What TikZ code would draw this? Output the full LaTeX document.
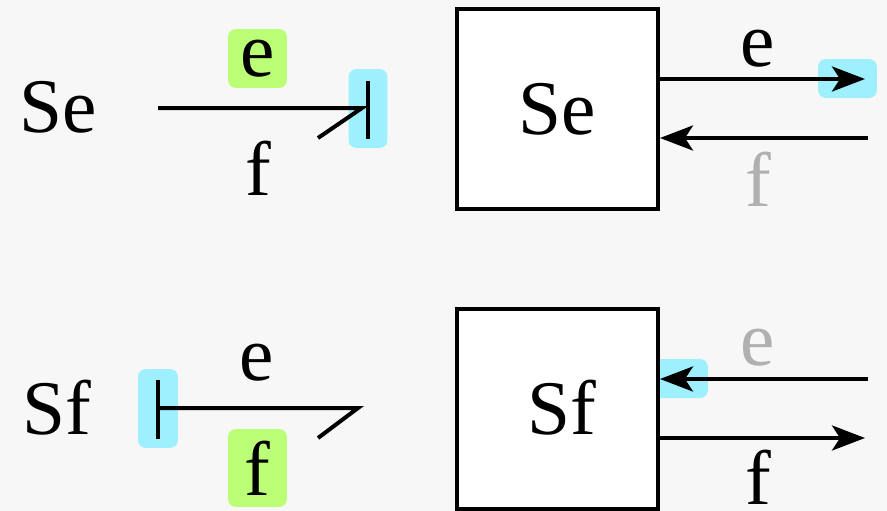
\documentclass[tikz,border=0pt]{standalone}
\usepackage{fontspec}
\setmainfont{Liberation Serif}
\usetikzlibrary{arrows.meta}
\definecolor{bgcol}{HTML}{F7F7F7}
\definecolor{causal}{HTML}{9EF0FF}
\definecolor{given}{HTML}{BBFF77}
\definecolor{faded}{HTML}{B0B0B0}

\begin{document}
\begin{tikzpicture}[x=0.02cm, y=-0.02cm, line width=0.08cm,
  >={Stealth[length=0.66cm, width=0.5cm, inset=0.16cm]},
  every node/.style={font=\fontsize{44}{52}\selectfont, inner sep=0pt},
  hl/.style={fill=#1, rounded corners=0.16cm},
  element/.style={draw, fill=white, minimum size=4.02cm}]
  \fill[bgcol] (0,0) rectangle (887,511);
  \useasboundingbox (0,0) rectangle (887,511);

  % effort source: bond graph
  \node (lblSe) at (58,107) {Se};
  \node[hl=given, minimum width=1.18cm, minimum height=1.18cm] (eSe) at (257.5,58.5) {e};
  \node (fSe) at (258,168) {f};
  \node[hl=causal, minimum width=0.78cm, minimum height=1.58cm] (strokeSe) at (368,108.5) {};
  \coordinate (bondSeA) at (158,108);
  \coordinate (bondSeB) at (362,108);
  \draw (bondSeA) -- (bondSeB) -- (318,138);
  \draw (strokeSe.center) ++(0,-28) -- ++(0,58);

  % effort source: block
  \node[hl=causal, minimum width=1.18cm, minimum height=0.78cm] (tipSe) at (847.5,78.5) {};
  \node[element] (boxSe) at (557.5,109) {Se};
  \coordinate (outSe) at (865,79);
  \coordinate (inSe) at (868,138);
  \draw[->] (boxSe.east |- outSe) -- (outSe);
  \draw[->] (inSe) -- (boxSe.east |- inSe);
  \node (eOutSe) at (758,48.5) {e};
  \node[text=faded] (fInSe) at (758,179) {f};

  % flow source: bond graph
  \node (lblSf) at (57,408) {Sf};
  \node (eSf) at (257,362.5) {e};
  \node[hl=given, minimum width=1.18cm, minimum height=1.56cm] (fSf) at (257.5,468) {f};
  \node[hl=causal, minimum width=0.8cm, minimum height=1.58cm] (strokeSf) at (158,408.5) {};
  \coordinate (bondSfA) at (158,408);
  \coordinate (bondSfB) at (358,408);
  \draw (bondSfA) -- (bondSfB) -- (318,438);
  \draw (strokeSf.center) ++(0,-29) -- ++(0,59);

  % flow source: block
  \node[hl=causal, minimum width=1.18cm, minimum height=0.78cm] (tipSf) at (678.5,378.5) {};
  \node[element] (boxSf) at (557.5,409) {};
  \node (txtSf) at (562,408) {Sf};
  \coordinate (inSf) at (868,379);
  \coordinate (outSf) at (865,438);
  \draw[->] (inSf) -- (boxSf.east |- inSf);
  \draw[->] (boxSf.east |- outSf) -- (outSf);
  \node[text=faded] (eInSf) at (758,347.5) {e};
  \node (fOutSf) at (758,477) {f};
\end{tikzpicture}
\end{document}
